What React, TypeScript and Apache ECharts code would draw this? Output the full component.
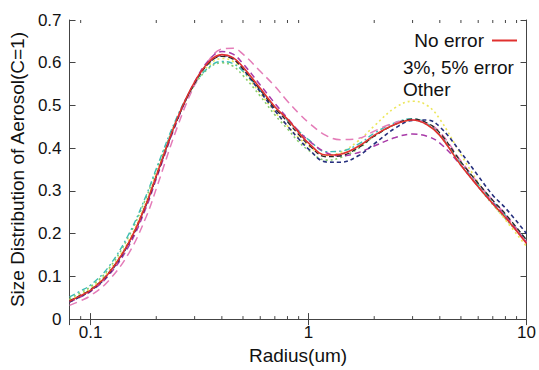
import React, { useEffect, useRef } from "react";
import * as echarts from "echarts";

// Radius (um) sample points shared by all curves
const radius = [0.08, 0.09, 0.1, 0.12, 0.15, 0.18, 0.2, 0.25, 0.3, 0.35, 0.4, 0.45, 0.5, 0.6, 0.7, 0.8, 0.9, 1.0, 1.2, 1.4, 1.7, 2.0, 2.5, 3.0, 3.5, 4.0, 5.0, 6.0, 7.0, 8.0, 10];

const noError = [0.042, 0.055, 0.068, 0.105, 0.18, 0.27, 0.335, 0.47, 0.555, 0.603, 0.619, 0.612, 0.59, 0.54, 0.497, 0.468, 0.437, 0.412, 0.384, 0.386, 0.405, 0.43, 0.456, 0.466, 0.455, 0.43, 0.36, 0.31, 0.27, 0.238, 0.177];
const err3 = [0.043, 0.056, 0.069, 0.106, 0.18, 0.27, 0.334, 0.468, 0.552, 0.6, 0.615, 0.608, 0.586, 0.536, 0.493, 0.462, 0.432, 0.408, 0.38, 0.382, 0.402, 0.428, 0.456, 0.468, 0.459, 0.436, 0.368, 0.318, 0.278, 0.246, 0.185];
const err5 = [0.04, 0.053, 0.066, 0.103, 0.178, 0.268, 0.333, 0.468, 0.553, 0.6, 0.617, 0.61, 0.585, 0.532, 0.488, 0.452, 0.422, 0.398, 0.368, 0.367, 0.383, 0.41, 0.447, 0.465, 0.466, 0.45, 0.39, 0.335, 0.29, 0.26, 0.2];
const otherPurple = [0.04, 0.052, 0.065, 0.1, 0.172, 0.262, 0.328, 0.465, 0.555, 0.607, 0.626, 0.62, 0.598, 0.548, 0.505, 0.47, 0.44, 0.418, 0.39, 0.382, 0.39, 0.405, 0.425, 0.433, 0.428, 0.412, 0.36, 0.31, 0.272, 0.24, 0.18];
const otherPink = [0.032, 0.043, 0.055, 0.088, 0.155, 0.24, 0.305, 0.45, 0.548, 0.607, 0.632, 0.634, 0.62, 0.58, 0.545, 0.51, 0.482, 0.46, 0.43, 0.42, 0.423, 0.44, 0.46, 0.466, 0.458, 0.438, 0.37, 0.318, 0.278, 0.245, 0.18];
const otherYellow = [0.045, 0.058, 0.072, 0.11, 0.185, 0.275, 0.34, 0.468, 0.55, 0.595, 0.61, 0.603, 0.58, 0.528, 0.485, 0.452, 0.425, 0.405, 0.383, 0.39, 0.418, 0.452, 0.495, 0.51, 0.5, 0.468, 0.385, 0.32, 0.27, 0.232, 0.17];
const otherGreen = [0.048, 0.062, 0.076, 0.115, 0.195, 0.285, 0.348, 0.47, 0.548, 0.588, 0.6, 0.592, 0.57, 0.522, 0.478, 0.445, 0.415, 0.395, 0.372, 0.378, 0.4, 0.428, 0.456, 0.466, 0.455, 0.43, 0.36, 0.31, 0.268, 0.235, 0.18];
const otherCyan = [0.052, 0.066, 0.08, 0.12, 0.2, 0.29, 0.352, 0.475, 0.55, 0.59, 0.603, 0.598, 0.58, 0.535, 0.495, 0.465, 0.44, 0.42, 0.392, 0.393, 0.41, 0.435, 0.46, 0.469, 0.458, 0.432, 0.365, 0.315, 0.275, 0.243, 0.185];

const minorTickValues = [0.09, 0.2, 0.3, 0.4, 0.5, 0.6, 0.7, 0.8, 0.9, 2, 3, 4, 5, 6, 7, 8, 9];

const legendMain = ["No error"];
const legendText = ["3%, 5% error", "Other"];

const FONT = "Liberation Sans, Arial, Helvetica, sans-serif";
const AXIS_COLOR = "#444";

function pairs(vals: number[]) {
  return radius.map((r, i) => [r, vals[i]]);
}

export default function App() {
  const ref = useRef<HTMLDivElement>(null);
  useEffect(() => {
    if (!ref.current) return;
    const chart = echarts.init(ref.current, null, { renderer: "svg" });

    const line = (name: string, data: number[], color: string, type: any, width = 1.5) => ({
      type: "line",
      name,
      data: pairs(data),
      showSymbol: false,
      symbol: "none",
      smooth: 0.4,
      lineStyle: { color, width, type },
      itemStyle: { color },
      z: 3,
    });

    const option: any = {
      animation: false,
      backgroundColor: "#fff",
      textStyle: { fontFamily: FONT },
      grid: { left: 66, right: 12, top: 20, bottom: 42 },
      legend: [
        {
          data: legendMain.map((n) => ({ name: n, icon: "rect" })),
          orient: "vertical",
          right: 17,
          top: 26,
          align: "right",
          itemWidth: 25,
          itemHeight: 2,
          selectedMode: false,
          textStyle: { fontSize: 19, color: "#111", fontFamily: FONT, padding: [0, 3, 0, 0] },
        },
        {
          data: legendText.map((n) => ({ name: n, icon: "none" })),
          orient: "vertical",
          left: 393,
          top: 53,
          align: "left",
          itemWidth: 0,
          itemHeight: 2,
          itemGap: 3,
          selectedMode: false,
          textStyle: { fontSize: 19, color: "#111", fontFamily: FONT },
        },
      ],
      xAxis: [
        {
          type: "log",
          logBase: 10,
          min: 0.08,
          max: 10,
          name: "Radius(um)",
          nameLocation: "middle",
          nameGap: 22,
          nameTextStyle: { fontSize: 19, color: "#111", fontFamily: FONT },
          axisLine: { show: true, lineStyle: { color: AXIS_COLOR, width: 1 } },
          axisTick: { show: true, inside: true, length: 6, lineStyle: { color: AXIS_COLOR } },
          axisLabel: { show: true, showMinLabel: false, fontSize: 17, color: "#111", margin: 5, fontFamily: FONT },
          splitLine: { show: false },
          minorTick: { show: false },
        },
        {
          type: "log",
          logBase: 10,
          min: 0.08,
          max: 10,
          position: "top",
          axisLine: { show: true, lineStyle: { color: AXIS_COLOR, width: 1 } },
          axisTick: { show: true, inside: true, length: 6, lineStyle: { color: AXIS_COLOR } },
          axisLabel: { show: false },
          splitLine: { show: false },
        },
      ],
      yAxis: [
        {
          type: "value",
          min: 0,
          max: 0.7,
          interval: 0.1,
          name: "Size Distribution of Aerosol(C=1)",
          nameLocation: "middle",
          nameGap: 40,
          nameTextStyle: { fontSize: 19, color: "#111", fontFamily: FONT },
          axisLine: { show: true, lineStyle: { color: AXIS_COLOR, width: 1 } },
          axisTick: { show: true, inside: true, length: 6, lineStyle: { color: AXIS_COLOR } },
          axisLabel: { fontSize: 17, color: "#111", margin: 8, fontFamily: FONT },
          splitLine: { show: false },
        },
        {
          type: "value",
          min: 0,
          max: 0.7,
          interval: 0.1,
          position: "right",
          axisLine: { show: true, lineStyle: { color: AXIS_COLOR, width: 1 } },
          axisTick: { show: true, inside: true, length: 6, lineStyle: { color: AXIS_COLOR } },
          axisLabel: { show: false },
          splitLine: { show: false },
        },
      ],
      series: [
        {
          type: "custom",
          name: "minorTicks",
          silent: true,
          data: minorTickValues.map((v) => [v, 0]),
          renderItem: (params: any, api: any) => {
            const x = api.value(0);
            const b = api.coord([x, 0]);
            const t = api.coord([x, 0.7]);
            const st = { stroke: AXIS_COLOR, lineWidth: 1 };
            return {
              type: "group",
              children: [
                { type: "line", shape: { x1: b[0], y1: b[1], x2: b[0], y2: b[1] - 3 }, style: st },
                { type: "line", shape: { x1: t[0], y1: t[1], x2: t[0], y2: t[1] + 3 }, style: st },
              ],
            };
          },
          z: 5,
        },
        line("Other", otherYellow, "#ece65a", [2, 3], 1.6),
        line("Other", otherGreen, "#86cc6c", [2, 3], 1.6),
        line("Other", otherCyan, "#3fbcb4", [6, 3, 2, 3], 1.4),
        line("Other", otherPink, "#e47cb8", [8, 5], 1.5),
        line("Other", otherPurple, "#a83aa8", [6, 4], 1.5),
        line("3%, 5% error", err5, "#26307e", [4, 3], 1.6),
        line("3%, 5% error", err3, "#2a2a2a", [5, 3], 1.3),
        line("No error", noError, "#e0312f", "solid", 1.6),
      ],
    };
    chart.setOption(option);
    return () => chart.dispose();
  }, []);

  return (
    <div
      ref={ref}
      style={{ position: "fixed", left: 0, top: 0, width: 539, height: 370, background: "#fff" }}
    />
  );
}
